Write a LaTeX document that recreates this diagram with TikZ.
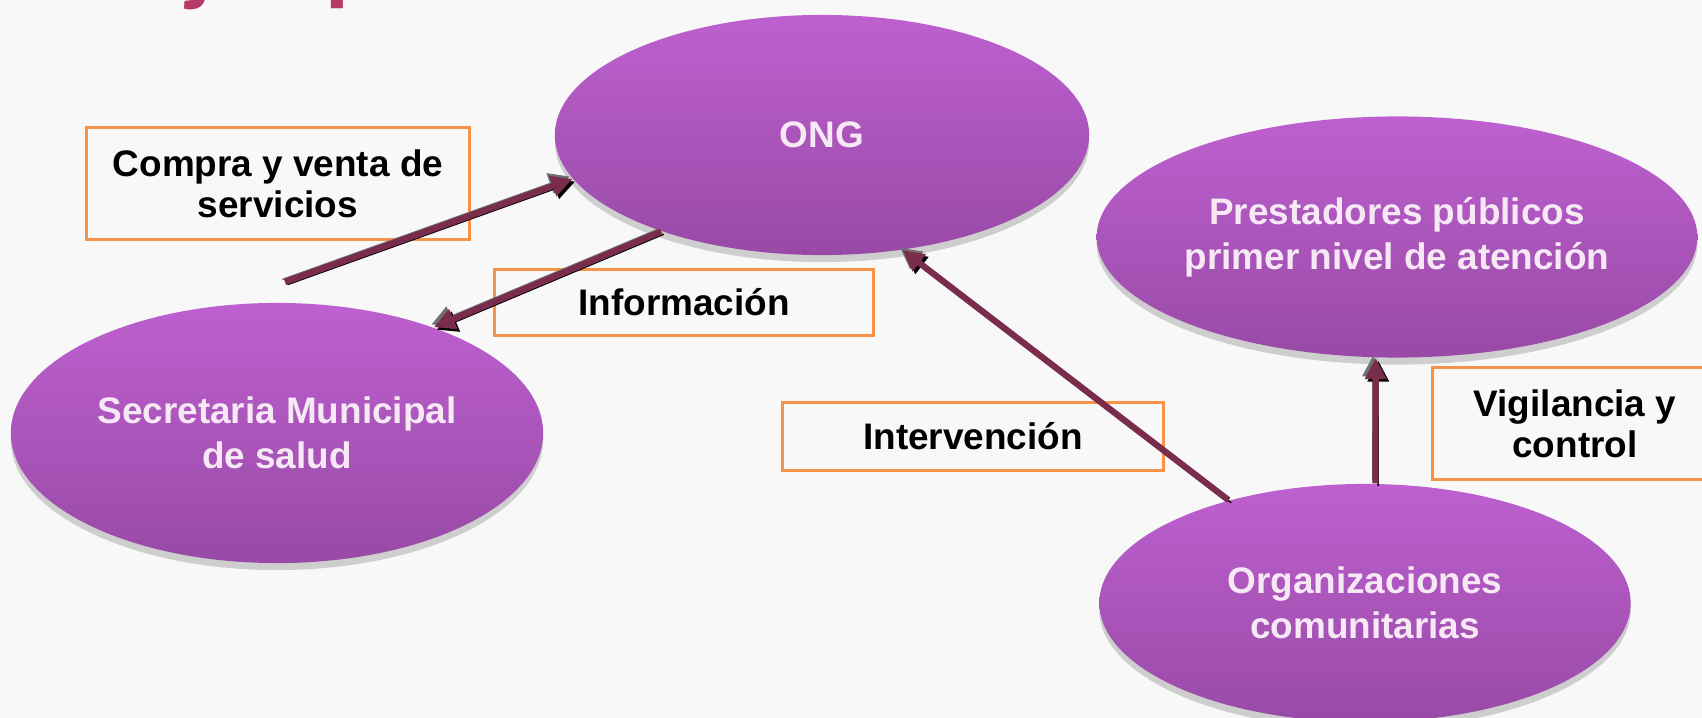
\documentclass[tikz,border=0pt]{standalone}
\usepackage{fontspec}
\setmainfont{Liberation Sans}
\newfontfamily\titlefont{Carlito}
\usetikzlibrary{shapes.geometric,arrows.meta,shadows}

\definecolor{fondo}{RGB}{248,248,248}
\definecolor{elipseArriba}{RGB}{190,96,208}
\definecolor{elipseAbajo}{RGB}{152,74,166}
\definecolor{textoElipse}{RGB}{246,232,244}
\definecolor{naranja}{RGB}{247,146,70}
\definecolor{flechaColor}{RGB}{122,44,76}
\definecolor{sombraGris}{RGB}{112,112,112}
\definecolor{tituloColor}{RGB}{184,58,104}

\def \grosorFlecha {1.8pt}
\def \desfase {2.6}

\tikzset{
  elipse/.style={ellipse, inner sep=0pt, top color=elipseArriba, bottom color=elipseAbajo,
    text=textoElipse, align=center, font=\bfseries\fontsize{10.5}{12.8}\selectfont,
    drop shadow={shadow xshift=0pt, shadow yshift=-2pt, opacity=0.35}},
  etiqueta/.style={draw=naranja, line width=0.85pt, inner sep=0pt, align=center,
    font=\bfseries\fontsize{10.5}{11.7}\selectfont},
  flecha/.style={line width=\grosorFlecha, flechaColor, -{Triangle[width=5.8pt,length=6pt]},
    preaction={draw=sombraGris, transform canvas={shift={(-\desfase,-\desfase)}}},
    preaction={draw=black, transform canvas={shift={(\desfase,\desfase)}}}}
}

\begin{document}
\begin{tikzpicture}[x=0.01cm, y=-0.01cm]
   \fill[fondo] (0,0) rectangle (1702,718);
   \useasboundingbox (0,0) rectangle (1702,718);
   \clip (0,0) rectangle (1702,718);

   % titulo cortado arriba
   \node[font=\titlefont\bfseries\fontsize{27.6}{30}\selectfont, text=tituloColor, anchor=base west, inner sep=0pt] (titulo) at (187,-6) {jos p};

   % actores
   \node[elipse, minimum width=5.34cm, minimum height=2.40cm] (ong) at (822,135) {ONG};
   \node[elipse, minimum width=5.32cm, minimum height=2.60cm] (secretaria) at (277,433) {Secretaria Municipal\\de salud};
   \node[elipse, minimum width=5.33cm, minimum height=2.41cm] (prestadores) at (1397,237) {Prestadores públicos\\primer nivel de atención};
   \node[elipse, minimum width=5.31cm, minimum height=2.38cm] (organizaciones) at (1365,603) {Organizaciones\\comunitarias};

   % relaciones
   \node[etiqueta, minimum width=3.82cm, minimum height=1.11cm] (compra) at (278,183.5) {Compra y venta de\\servicios};
   \node[etiqueta, minimum width=3.78cm, minimum height=0.65cm] (informacion) at (684,302.5) {Información};
   \node[etiqueta, minimum width=3.80cm, minimum height=0.67cm] (intervencion) at (973,436.5) {Intervención};
   \node[etiqueta, minimum width=2.84cm, minimum height=1.11cm] (vigilancia) at (1575,423.5) {Vigilancia y\\control};

   \coordinate (compraIni) at (285,282);
   \draw[flecha] (compraIni) -- (ong.190);
   \draw[flecha] (ong.211) -- (secretaria.34);
   \draw[flecha] (organizaciones.143) -- (ong.305);
   \draw[flecha] (organizaciones.85) -- (prestadores.260);
\end{tikzpicture}
\end{document}
